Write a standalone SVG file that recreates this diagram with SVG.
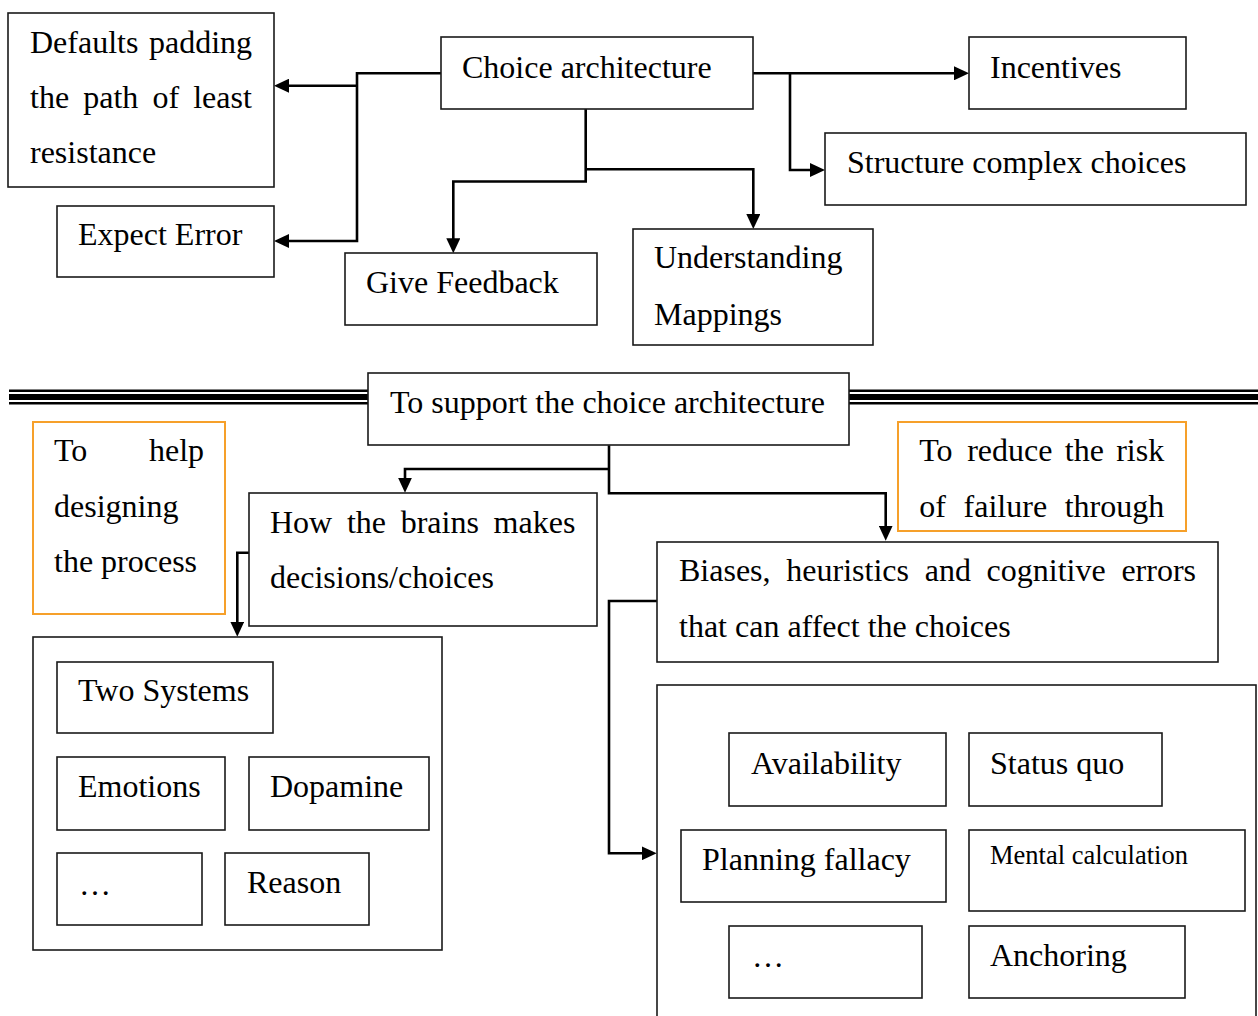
<svg xmlns="http://www.w3.org/2000/svg" width="1258" height="1016" viewBox="0 0 1258 1016">
  <style>
    .box { fill: #ffffff; stroke: #1a1a1a; stroke-width: 1.6; }
    .note { fill: none; stroke: #f6a02a; stroke-width: 2; }
    .t { font-family: "Liberation Serif", "Times New Roman", serif; font-size: 32px; fill: #000000; }
    .small { font-size: 26.5px; }
    .conn { fill: none; stroke: #000000; stroke-width: 2.6; stroke-linejoin: miter; }
    .rule { stroke: #000000; }
  </style>
  <defs>
    <marker id="arrow" markerUnits="userSpaceOnUse" markerWidth="16" markerHeight="14" refX="9" refY="7" orient="auto">
      <path d="M0,0 L15,7 L0,14 Z" fill="#000000"/>
    </marker>
  </defs>

  <rect width="1258" height="1016" fill="#ffffff"/>

  <!-- triple separator rule -->
  <g id="separator">
    <line class="rule" x1="9" y1="390.7" x2="368" y2="390.7" stroke-width="2.5"/>
    <line class="rule" x1="9" y1="397" x2="368" y2="397" stroke-width="6"/>
    <line class="rule" x1="9" y1="403.3" x2="368" y2="403.3" stroke-width="2.5"/>
    <line class="rule" x1="849" y1="390.7" x2="1258" y2="390.7" stroke-width="2.5"/>
    <line class="rule" x1="849" y1="397" x2="1258" y2="397" stroke-width="6"/>
    <line class="rule" x1="849" y1="403.3" x2="1258" y2="403.3" stroke-width="2.5"/>
  </g>

  <!-- connectors -->
  <g id="connectors">
    <path class="conn" d="M441,73.3 H357 V241 H280" marker-end="url(#arrow)"/>
    <path class="conn" d="M357,85.7 H280" marker-end="url(#arrow)"/>
    <path class="conn" d="M585.7,109 V181.5 H453.3 V247.3" marker-end="url(#arrow)"/>
    <path class="conn" d="M585.7,169.3 H753.3 V223" marker-end="url(#arrow)"/>
    <path class="conn" d="M753,73.3 H963" marker-end="url(#arrow)"/>
    <path class="conn" d="M790,73.3 V170 H819" marker-end="url(#arrow)"/>
    <path class="conn" d="M609,445.3 V493.3 H885.7 V534.7" marker-end="url(#arrow)"/>
    <path class="conn" d="M609,469 H405 V486.7" marker-end="url(#arrow)"/>
    <path class="conn" d="M249,552.7 H237.3 V630.7" marker-end="url(#arrow)"/>
    <path class="conn" d="M657,601 H609 V853.3 H650.7" marker-end="url(#arrow)"/>
  </g>

  <!-- top section -->
  <g id="defaults">
    <rect class="box" x="8" y="13" width="266" height="174"/>
    <text class="t" y="53"><tspan x="30">Defaults</tspan><tspan x="149">padding</tspan></text>
    <text class="t" y="108"><tspan x="30">the</tspan><tspan x="83.2">path</tspan><tspan x="152.4">of</tspan><tspan x="193.2">least</tspan></text>
    <text class="t" x="30" y="163">resistance</text>
  </g>
  <g id="choice-architecture">
    <rect class="box" x="441" y="37" width="312" height="72"/>
    <text class="t" x="462" y="78">Choice architecture</text>
  </g>
  <g id="incentives">
    <rect class="box" x="969" y="37" width="217" height="72"/>
    <text class="t" x="990" y="78">Incentives</text>
  </g>
  <g id="structure-choices">
    <rect class="box" x="825" y="133" width="421" height="72"/>
    <text class="t" x="847" y="173">Structure complex choices</text>
  </g>
  <g id="expect-error">
    <rect class="box" x="57" y="206" width="217" height="71"/>
    <text class="t" x="78" y="245">Expect Error</text>
  </g>
  <g id="give-feedback">
    <rect class="box" x="345" y="253" width="252" height="72"/>
    <text class="t" x="366" y="293">Give Feedback</text>
  </g>
  <g id="mappings">
    <rect class="box" x="633" y="229" width="240" height="116"/>
    <text class="t" x="654" y="268">Understanding</text>
    <text class="t" x="654" y="325">Mappings</text>
  </g>

  <!-- lower section -->
  <g id="support">
    <rect class="box" x="368" y="373" width="481" height="72"/>
    <text class="t" x="390" y="413">To support the choice architecture</text>
  </g>
  <g id="note-design">
    <rect class="note" x="33" y="422" width="192" height="192"/>
    <text class="t" y="461"><tspan x="54">To</tspan><tspan x="149">help</tspan></text>
    <text class="t" x="54" y="517">designing</text>
    <text class="t" x="54" y="572">the process</text>
  </g>
  <g id="note-risk">
    <rect class="note" x="898" y="422" width="288" height="109"/>
    <text class="t" y="461"><tspan x="919.3">To</tspan><tspan x="967.2">reduce</tspan><tspan x="1064.8">the</tspan><tspan x="1116.2">risk</tspan></text>
    <text class="t" y="517"><tspan x="919.3">of</tspan><tspan x="963.6">failure</tspan><tspan x="1064.7">through</tspan></text>
  </g>
  <g id="brain">
    <rect class="box" x="249" y="493" width="348" height="133"/>
    <text class="t" y="533"><tspan x="270">How</tspan><tspan x="346.9">the</tspan><tspan x="400.7">brains</tspan><tspan x="493.6">makes</tspan></text>
    <text class="t" x="270" y="588">decisions/choices</text>
  </g>
  <g id="biases">
    <rect class="box" x="657" y="542" width="561" height="120"/>
    <text class="t" y="581"><tspan x="679">Biases,</tspan><tspan x="786.3">heuristics</tspan><tspan x="924.7">and</tspan><tspan x="986.6">cognitive</tspan><tspan x="1121.4">errors</tspan></text>
    <text class="t" x="679" y="637">that can affect the choices</text>
  </g>

  <!-- brain mechanisms -->
  <g id="brain-group">
    <rect class="box" x="33" y="637" width="409" height="313"/>
  </g>
  <g id="two-systems">
    <rect class="box" x="57" y="662" width="216" height="71"/>
    <text class="t" x="78" y="701">Two Systems</text>
  </g>
  <g id="emotions">
    <rect class="box" x="57" y="757" width="168" height="73"/>
    <text class="t" x="78" y="797">Emotions</text>
  </g>
  <g id="dopamine">
    <rect class="box" x="249" y="757" width="180" height="73"/>
    <text class="t" x="270" y="797">Dopamine</text>
  </g>
  <g id="brain-more">
    <rect class="box" x="57" y="853" width="145" height="72"/>
    <text class="t" x="79" y="895">…</text>
  </g>
  <g id="reason">
    <rect class="box" x="225" y="853" width="144" height="72"/>
    <text class="t" x="247" y="893">Reason</text>
  </g>

  <!-- biases list -->
  <g id="bias-group">
    <rect class="box" x="657" y="685" width="599" height="345"/>
  </g>
  <g id="availability">
    <rect class="box" x="729" y="733" width="217" height="73"/>
    <text class="t" x="751" y="774">Availability</text>
  </g>
  <g id="status-quo">
    <rect class="box" x="969" y="733" width="193" height="73"/>
    <text class="t" x="990" y="774">Status quo</text>
  </g>
  <g id="planning-fallacy">
    <rect class="box" x="681" y="830" width="265" height="72"/>
    <text class="t" x="702" y="870">Planning fallacy</text>
  </g>
  <g id="mental-calculation">
    <rect class="box" x="969" y="830" width="276" height="81"/>
    <text class="t small" x="990" y="864">Mental calculation</text>
  </g>
  <g id="bias-more">
    <rect class="box" x="729" y="926" width="193" height="72"/>
    <text class="t" x="752" y="967">…</text>
  </g>
  <g id="anchoring">
    <rect class="box" x="969" y="926" width="216" height="72"/>
    <text class="t" x="990" y="966">Anchoring</text>
  </g>
</svg>
